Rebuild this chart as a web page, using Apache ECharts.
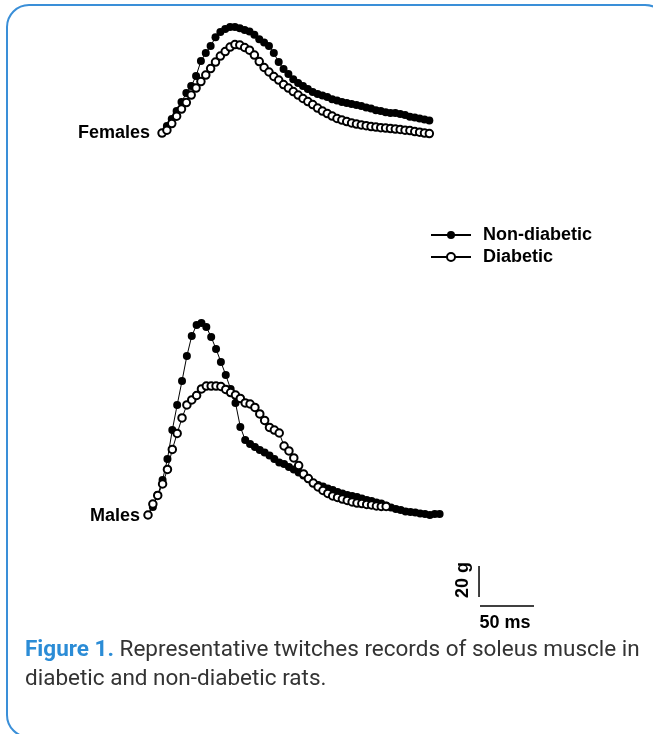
<!DOCTYPE html>
<html><head><meta charset="utf-8">
<script src="https://cdn.jsdelivr.net/npm/echarts@6/dist/echarts.min.js"></script>
<style>html,body{margin:0;padding:0;background:#fff;}#chart{width:653px;height:734px;}</style>
</head><body><div id="chart"></div>
<script>
// sampling interval of the recordings (ms)
const SAMPLE_MS = 4.5;
// twitch force above baseline (g), one value per sample
const femaleNonDiabetic = [0,4.5,9.0,14.2,20.0,25.8,30.3,36.8,46.5,51.6,56.1,61.9,65.2,67.1,68.4,68.4,67.7,66.5,65.5,63.5,60.6,58.4,56.1,51.6,45.8,41.3,38.1,34.8,32.3,30.3,28.4,26.5,25.2,24.2,23.2,21.9,21.0,20.0,19.4,18.7,18.1,17.4,16.5,15.8,14.8,14.2,13.5,12.9,12.9,12.3,11.6,10.6,10.0,9.4,8.7,8.1];
const femaleDiabetic = [0,1.9,6.1,10.9,15.5,19.7,24.5,29.0,33.2,37.4,41.6,45.8,49.7,52.6,55.5,57.1,56.8,55.2,53.5,50.3,46.1,42.3,39.4,36.5,34.2,31.3,29.0,26.8,24.5,22.3,20.3,18.4,16.1,14.2,12.6,11.0,9.4,8.4,7.4,6.5,5.8,5.2,4.8,4.2,3.9,3.5,3.2,2.9,2.6,2.3,1.9,1.6,1.0,0.6,0.0,-0.3];
const maleNonDiabetic = [0,5.2,12.9,22.6,36.1,54.8,71.0,86.5,102.6,115.5,122.6,123.9,121.3,114.8,107.1,98.7,90.3,81.3,72.3,56.8,48.4,45.8,43.9,41.9,40.3,38.4,36.1,33.9,32.9,31.0,29.4,27.4,25.5,23.2,20.6,19.4,18.4,17.1,16.1,14.8,13.9,12.9,12.3,11.6,10.6,9.7,9.0,8.1,7.4,6.1,4.8,3.9,3.2,2.3,1.9,1.6,1.0,0.6,0.0,0.6,0.6];
const maleDiabetic = [0,7.1,12.6,20.0,29.4,42.3,52.6,62.6,71.0,74.2,77.1,81.3,83.2,83.2,83.2,82.9,81.0,79.0,77.4,75.2,72.3,71.6,69.4,65.2,61.0,56.5,54.8,52.9,44.5,41.3,36.8,31.9,26.5,23.5,20.6,18.1,15.8,13.9,12.3,11.3,10.3,9.4,8.4,7.7,7.4,6.8,6.5,5.8,5.5,5.5];
// scale bars: 50 ms and 20 g
const SCALE_MS = 50;
const SCALE_G = 20;

// placement of each panel in the shared time/force frame
const FEMALE_START_MS = 13, FEMALE_BASE_G = 320.6;
const MALE_START_MS = 0, MALE_BASE_G = 74.2;
const BAR_T0 = 307.4, BAR_G0 = 15.5, VBAR_T = 306.5, VBAR_G0 = 21.3;

function toPoints(vals, t0, g0) {
  return vals.map((v, i) => [t0 + i * SAMPLE_MS, g0 + v]);
}

const filled = (name, data) => ({
  name, type: 'line', data, symbol: 'circle', symbolSize: 8,
  lineStyle: { color: '#000', width: 1 },
  itemStyle: { color: '#000' }, z: 2
});
const empty = (name, data) => ({
  name, type: 'line', data, symbol: 'emptyCircle', symbolSize: 7.5,
  lineStyle: { color: '#000', width: 1 },
  itemStyle: { color: '#000', borderWidth: 1.5 }, z: 3
});

const LABEL_FONT = 'bold 18px "Liberation Sans", Arial, sans-serif';
const chart = echarts.init(document.getElementById('chart'));
chart.setOption({
  animation: false,
  backgroundColor: '#fff',
  grid: { left: 148, top: 10, width: 432, height: 620 },
  xAxis: { type: 'value', min: 0, max: 400, show: false },
  yAxis: { type: 'value', min: 0, max: 400, show: false },
  legend: {
    data: ['Non-diabetic', 'Diabetic'],
    orient: 'vertical', left: 430, top: 226, padding: 0,
    itemWidth: 40, itemHeight: 10, itemGap: 4, selectedMode: false,
    textStyle: { fontFamily: '"Liberation Sans", Arial, sans-serif', fontWeight: 'bold', fontSize: 18, color: '#000', lineHeight: 18, padding: [0, 0, 0, 7] }
  },
  series: [
    filled('Non-diabetic', toPoints(femaleNonDiabetic, FEMALE_START_MS, FEMALE_BASE_G)),
    empty('Diabetic', toPoints(femaleDiabetic, FEMALE_START_MS, FEMALE_BASE_G)),
    filled('Non-diabetic', toPoints(maleNonDiabetic, MALE_START_MS, MALE_BASE_G)),
    empty('Diabetic', toPoints(maleDiabetic, MALE_START_MS, MALE_BASE_G)),
    { name: 'bar-time', type: 'line', symbol: 'none', silent: true,
      data: [[BAR_T0, BAR_G0], [BAR_T0 + SCALE_MS, BAR_G0]], lineStyle: { color: '#000', width: 1.5 } },
    { name: 'bar-force', type: 'line', symbol: 'none', silent: true,
      data: [[VBAR_T, VBAR_G0], [VBAR_T, VBAR_G0 + SCALE_G]], lineStyle: { color: '#000', width: 1.5 } }
  ],
  graphic: [
    { type: 'rect', shape: { x: 7, y: 5, width: 660, height: 732, r: 22 }, silent: true,
      style: { fill: 'none', stroke: '#3a8fd8', lineWidth: 2 } },
    { type: 'text', x: 150, y: 133, silent: true,
      style: { text: 'Females', textAlign: 'right', textVerticalAlign: 'middle', font: LABEL_FONT, fill: '#000' } },
    { type: 'text', x: 140, y: 516, silent: true,
      style: { text: 'Males', textAlign: 'right', textVerticalAlign: 'middle', font: LABEL_FONT, fill: '#000' } },
    { type: 'text', x: 463, y: 580, rotation: Math.PI / 2, silent: true,
      style: { text: SCALE_G + ' g', textAlign: 'center', textVerticalAlign: 'middle', font: LABEL_FONT, fill: '#000' } },
    { type: 'text', x: 505, y: 623, silent: true,
      style: { text: SCALE_MS + ' ms', textAlign: 'center', textVerticalAlign: 'middle', font: LABEL_FONT, fill: '#000' } },
    { type: 'text', x: 25, y: 636, silent: true,
      style: {
        text: '{b|Figure 1.} Representative twitches records of soleus muscle in\ndiabetic and non-diabetic rats.',
        font: '22.5px Roboto', fill: '#333', lineHeight: 29,
        rich: { b: { fill: '#2b8cd6', fontWeight: 'bold', fontSize: 22.5, fontFamily: 'Roboto', lineHeight: 29 } }
      } }
  ]
});
</script></body></html>
